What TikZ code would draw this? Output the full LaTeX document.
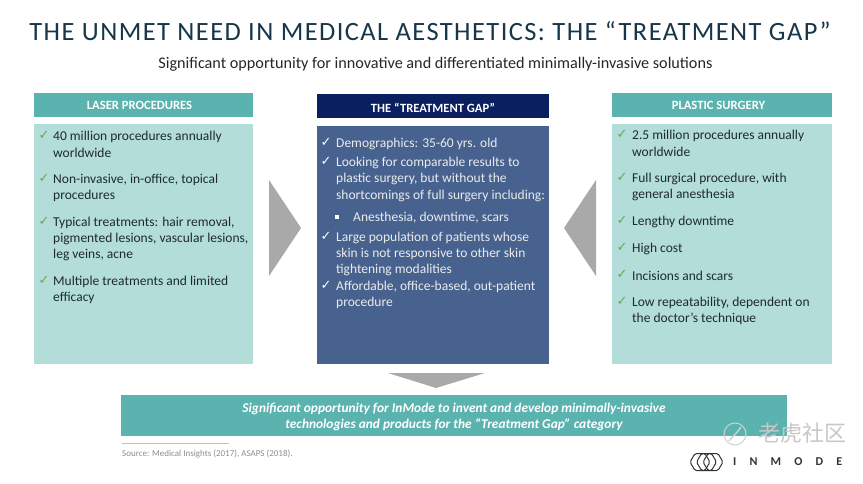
\documentclass[tikz,border=0pt]{standalone}
\usepackage{fontspec}
\setmainfont{Carlito}
\newfontfamily\symfont{DejaVu Sans}
\newfontfamily\cjkfont{Noto Sans CJK SC}
\definecolor{tealhead}{HTML}{5AB3AE}
\definecolor{tealbody}{HTML}{B2DDD9}
\definecolor{navyhead}{HTML}{0A1F5F}
\definecolor{bluebody}{HTML}{47628F}
\definecolor{gapgrey}{HTML}{A9A9A9}
\definecolor{titleink}{HTML}{17364A}
\definecolor{bodyink}{HTML}{1F2A2E}
\definecolor{checkgreen}{HTML}{6AA84F}
\tikzset{
  headbox/.style={inner sep=0pt, text=white, font=\fontsize{12.6}{14}\selectfont\bfseries},
  itemtext/.style={anchor=west, inner sep=0pt, text=bodyink, font=\fontsize{13.5}{15}\selectfont},
  itemlight/.style={itemtext, text=white!92!black},
  tick/.style={anchor=center, inner sep=0pt, text=checkgreen, font=\fontsize{13}{13}\selectfont\symfont},
  ticklight/.style={tick, text=white}
}
\begin{document}
\begin{tikzpicture}[x=1pt,y=-1pt]
            \useasboundingbox (0,0) rectangle (863,484);

            \node[inner sep=0pt, text=titleink, font=\fontsize{26.4}{28}\selectfont] (title) at (430,31.5) {\addfontfeature{LetterSpace=5.5}THE UNMET NEED IN MEDICAL AESTHETICS: THE “TREATMENT GAP”};
            \node[inner sep=0pt, text=black!85, font=\fontsize{16.2}{18}\selectfont] (subtitle) at (435.5,64) {Significant opportunity for innovative and differentiated minimally-invasive solutions};

            % left column
            \fill[tealhead] (34,93) rectangle (253,117);
            \fill[tealbody] (34,124) rectangle (253,364);
            \node[headbox] (laserhead) at (139.5,105.5) {LASER PROCEDURES};
            \foreach \y in {136,179,222,281}
                \node[tick] (laser\y) at (44,\y-1) {✓};
            \foreach \y/\line in {136/40 million procedures annually, 152/worldwide,
                179/{Non-invasive, in-office, topical}, 195/procedures,
                222/{Typical treatments: hair removal,}, 238/{pigmented lesions, vascular lesions,},
                254/{leg veins, acne}, 281/Multiple treatments and limited, 297/efficacy}
                \node[itemtext] (lasertext\y) at (53,\y+0.7) {\line};

            % center column
            \fill[navyhead] (317,94) rectangle (549,118);
            \fill[bluebody] (317,126) rectangle (549,364);
            \node[headbox] (gaphead) at (433,107.5) {THE “TREATMENT GAP”};
            \foreach \y in {143,162,237,286}
                \node[ticklight] (gap\y) at (326,\y-1) {✓};
            \foreach \y/\line in {143/Demographics: 35-60 yrs. old, 162/Looking for comparable results to,
                178/{plastic surgery, but without the}, 195/shortcomings of full surgery including:,
                237/Large population of patients whose, 253/skin is not responsive to other skin,
                269/tightening modalities, 286/{Affordable, office-based, out-patient},
                302/procedure}
                \node[itemlight] (gaptext\y) at (336,\y+0.7) {\line};
            \fill[white] (335,215) rectangle (339,219);
            \node[itemlight] (gaptext217) at (353,217.7) {Anesthesia, downtime, scars};

            % right column
            \fill[tealhead] (612,93) rectangle (832,117);
            \fill[tealbody] (612,124) rectangle (832,364);
            \node[headbox] (surgeryhead) at (718.5,105.5) {PLASTIC SURGERY};
            \foreach \y in {135,178,221,248,275,302}
                \node[tick] (surgery\y) at (622,\y-1) {✓};
            \foreach \y/\line in {135/2.5 million procedures annually, 151/worldwide,
                178/{Full surgical procedure, with}, 194/general anesthesia,
                221/Lengthy downtime, 248/High cost, 275/Incisions and scars,
                302/{Low repeatability, dependent on}, 318/the doctor’s technique}
                \node[itemtext] (surgerytext\y) at (632,\y+0.7) {\line};

            % arrows
            \fill[gapgrey] (269,180) -- (301,228) -- (269,276) -- cycle;
            \fill[gapgrey] (596,180) -- (564,228) -- (596,276) -- cycle;
            \fill[gapgrey] (388,373) -- (485,373) -- (436,388) -- cycle;

            % bottom banner
            \fill[tealhead] (121,395) rectangle (787,436);
            \node[inner sep=0pt, align=center, text=white, font=\fontsize{13.4}{16}\selectfont\bfseries\itshape] (banner) at (454,417)
                {Significant opportunity for InMode to invent and develop minimally-invasive\\technologies and products for the “Treatment Gap” category};

            \draw[black!25, line width=0.6pt] (122,443) -- (229,443);
            \node[anchor=west, inner sep=0pt, text=black!45, font=\fontsize{9}{10}\selectfont] (source) at (122,453.5) {Source: Medical Insights (2017), ASAPS (2018).};

            % logo and watermark
            \foreach \x in {700,706.5,713}
                \draw[black!80, line width=1pt, rounded corners=1.5pt] (\x-10,462) -- (\x-5,453.5) -- (\x+5,453.5) -- (\x+10,462) -- (\x+5,470.5) -- (\x-5,470.5) -- cycle;
            \node[anchor=west, inner sep=0pt, text=black!80, font=\fontsize{12}{12}\selectfont\bfseries] (logoname) at (733,462) {\addfontfeature{LetterSpace=110}INMODE};
            \draw[black!18, line width=1pt] (735,434) circle[radius=11];
            \draw[black!18, line width=1.4pt] (729,441) .. controls (733,436) and (737,433) .. (741,427);
            \node[anchor=west, inner sep=0pt, text=black!22, font=\fontsize{22}{24}\selectfont\cjkfont] (mark) at (758,433) {老虎社区};
\end{tikzpicture}
\end{document}
